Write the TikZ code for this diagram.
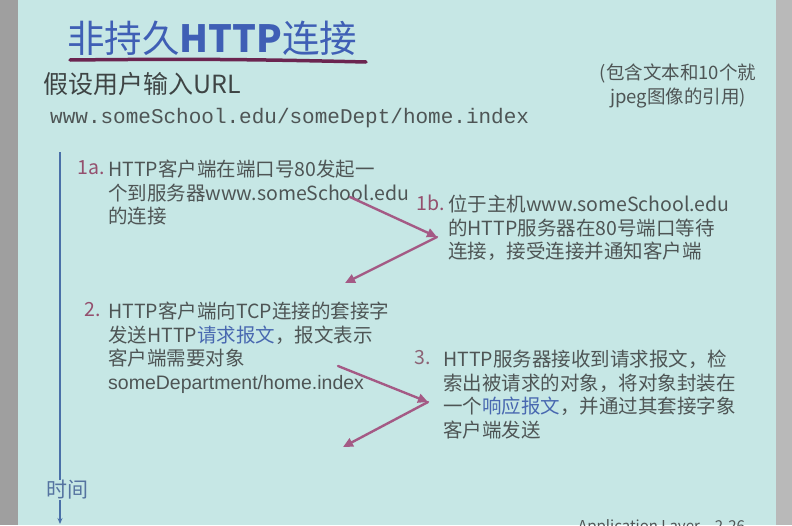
\documentclass[tikz,border=0pt]{standalone}
\usepackage{fontspec}
\setmainfont{Noto Sans CJK SC}
\setmonofont{Liberation Mono}
\newfontfamily\latinsans{Liberation Sans}
\usetikzlibrary{positioning, arrows.meta}

\definecolor{slidebg}{HTML}{C6E7E5}
\definecolor{titleblue}{HTML}{3F5FB5}
\definecolor{markpurple}{HTML}{6B2550}
\definecolor{bodygray}{HTML}{4E5555}
\definecolor{numpurple}{HTML}{94506E}
\definecolor{flowpink}{HTML}{A45A85}
\definecolor{timeblue}{HTML}{4A70A8}
\definecolor{linkblue}{HTML}{4868B0}

\tikzset{
  bodytext/.style={anchor=north west, align=left, text=bodygray,
    font=\fontsize{19.5}{23.5}\selectfont},
  stepnum/.style={anchor=north east, text=numpurple,
    font=\fontsize{19.5}{23.5}\selectfont},
  flow/.style={draw=flowpink, line width=2.4pt, line cap=round,
    -{Triangle[length=10pt,width=9pt]}},
  timeline/.style={draw=timeblue, line width=1.6pt}
}
\newcommand{\hl}[1]{\textcolor{linkblue}{#1}}

\begin{document}
\begin{tikzpicture}[x=1pt, y=-1pt, inner sep=0pt]
   % slide background
   \fill[slidebg] (0,0) rectangle (792,525);
   \fill[gray!75] (0,0) rectangle (18,525);
   \fill[gray!55] (776,0) rectangle (792,525);
   \useasboundingbox (0,0) rectangle (792,525);

   % Title and URL
   \node[anchor=west, text=titleblue, font=\fontsize{37.5}{42}\selectfont] (title) at (67,38) {非持久\textbf{HTTP}连接};
   \draw[markpurple, line width=3.5pt, line cap=round] (70,60) to[bend left=1] (366,62);
   \node[anchor=west, text=bodygray!80!black, font=\fontsize{25}{28}\selectfont] (assume) at (43,84) {假设用户输入URL};
   \node[anchor=west, text=bodygray, font=\ttfamily\fontsize{21}{24}\selectfont] (url) at (50,118) {www.someSchool.edu/someDept/home.index};
   \node[align=center, text=bodygray, font=\fontsize{18.5}{24}\selectfont] (note) at (678,86) {(包含文本和10个就\\jpeg图像的引用)};

   % Steps
   \node[bodytext] (t1a) at (108,160) {HTTP客户端在端口号80发起一\\个到服务器www.someSchool.edu\\的连接};
   \node[stepnum] (n1a) at ([xshift=-3pt]t1a.north west) {1a.};
   \node[bodytext] (t1b) at (448,195) {位于主机www.someSchool.edu\\的HTTP服务器在80号端口等待\\连接，接受连接并通知客户端};
   \node[stepnum] (n1b) at ([xshift=-3pt]t1b.north west) {1b.};
   \node[bodytext] (t2) at (108,302) {HTTP客户端向TCP连接的套接字\\发送HTTP\hl{请求报文}，报文表示\\客户端需要对象\\{\latinsans someDepartment/home.index}};
   \node[stepnum] (n2) at ([xshift=-7pt]t2.north west) {2.};
   \node[bodytext] (t3) at (443,350) {HTTP服务器接收到请求报文，检\\索出被请求的对象，将对象封装在\\一个\hl{响应报文}，并通过其套接字象\\客户端发送};
   \node[stepnum, text=numpurple!60!gray] (n3) at ([xshift=-12pt]t3.north west) {3.};

   % Message arrows
   \coordinate (a1s) at (350,197);
   \coordinate (a1m) at (437,237);
   \coordinate (a1e) at (345,283);
   \coordinate (a2s) at (338,366);
   \coordinate (a2m) at (428,402);
   \coordinate (a2e) at (343,447);
   \draw[flow] (a1s) -- (a1m);
   \draw[flow] (a1m) -- (a1e);
   \draw[flow] (a2s) -- (a2m);
   \draw[flow] (a2m) -- (a2e);

   % Time axis
   \coordinate (tstart) at (60,152);
   \coordinate (tend) at (60,524);
   \node[text=timeblue!80!gray, font=\fontsize{21}{24}\selectfont] (time) at (67,490) {时间};
   \draw[timeline] (tstart) -- (tstart |- time.north);
   \draw[timeline, -{Stealth[length=6pt,width=5pt]}] (tstart |- time.south) -- (tend);

   % Footer
   \node[anchor=base west, text=bodygray, font=\fontsize{15}{18}\selectfont] (footer) at (578,531) {Application Layer\quad 2-26};
\end{tikzpicture}
\end{document}
